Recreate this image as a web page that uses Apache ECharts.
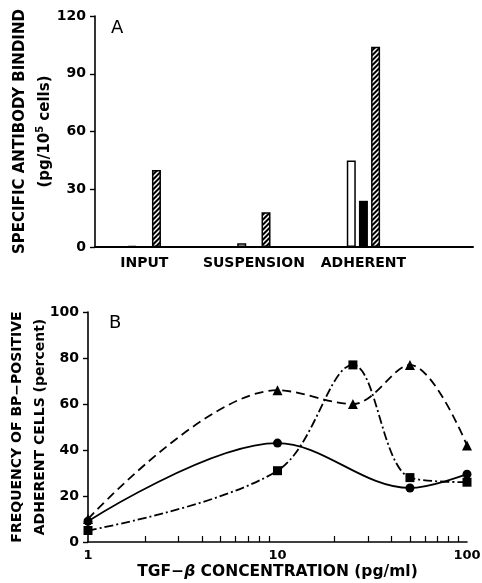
<!DOCTYPE html>
<html>
<head>
<meta charset="utf-8">
<script src="https://cdn.jsdelivr.net/npm/echarts@6/dist/echarts.min.js"></script>
<style>
  html, body { margin: 0; padding: 0; background: #fff; }
  #chart { width: 482px; height: 583px; }
</style>
</head>
<body>
<div id="chart"></div>
<script>
// panel A: antibody binding per cell fraction
const groups = ['INPUT', 'SUSPENSION', 'ADHERENT']
const groupPos = [1, 2, 3]
const openBars = [0.6, 2, 45]
const solidBars = [0, 0, 24]
const hatchedBars = [40, 18, 104]

// panel B: frequency vs TGF-beta concentration
const triangleX = [1, 10, 25, 50, 100]
const triangleY = [10, 66, 60, 77, 42]
const squareX = [1, 10, 25, 50, 100]
const squareY = [5, 31, 77, 28, 26]
const circleX = [1, 10, 50, 100]
const circleY = [9, 43, 23.5, 29.5]
const minorTicks = [2, 3, 4, 5, 6, 7, 8, 9, 20, 30, 40, 50, 60, 70, 80, 90]

const font = 'DejaVu Sans'

const makeHatch = () => {
  const c = document.createElement('canvas')
  c.width = 5
  c.height = 5
  const ctx = c.getContext('2d')
  ctx.fillStyle = '#000'
  ctx.fillRect(0, 0, 5, 5)
  ctx.strokeStyle = '#fff'
  ctx.lineWidth = 1.5
  ctx.beginPath()
  ctx.moveTo(-1, 6); ctx.lineTo(6, -1)
  ctx.moveTo(-1, 1); ctx.lineTo(1, -1)
  ctx.moveTo(4, 6); ctx.lineTo(6, 4)
  ctx.stroke()
  return c
}

const pairs = (xs, ys) => xs.map((x, i) => [x, ys[i]])

const tickLabel = { color: '#000', fontFamily: font, fontWeight: 'bold', fontSize: 14 }
const nameStyle = (size, lh) => ({
  color: '#000', fontFamily: font, fontWeight: 'bold', fontSize: size, lineHeight: lh,
  rich: {
    sup: { color: '#000', fontFamily: font, fontWeight: 'bold', fontSize: 10, padding: [0, 0, 10, 0] },
    it: { color: '#000', fontFamily: font, fontWeight: 'bold', fontStyle: 'italic', fontSize: size }
  }
})
const axisLine = { show: true, lineStyle: { color: '#000', width: 1.6 } }

const chart = echarts.init(document.getElementById('chart'))

chart.setOption({
  animation: false,
  backgroundColor: '#fff',
  title: [
    { text: 'A', left: 106, top: 14, textStyle: { fontFamily: font, fontWeight: 'normal', fontSize: 18, color: '#000' } },
    { text: 'B', left: 104, top: 309, textStyle: { fontFamily: font, fontWeight: 'normal', fontSize: 18, color: '#000' } }
  ],
  grid: [
    { left: 95, right: 9, top: 16, bottom: 336, outerBoundsMode: 'none' },
    { left: 88, right: 15, top: 312, bottom: 41, outerBoundsMode: 'none' }
  ],
  xAxis: [
    {
      gridIndex: 0,
      type: 'value',
      min: 0.55,
      max: 4,
      axisLine: { show: true, lineStyle: { color: '#000', width: 2 } },
      axisTick: { show: false },
      splitLine: { show: false },
      axisLabel: {
        ...tickLabel,
        margin: 9,
        customValues: groupPos,
        formatter: v => groups[groupPos.indexOf(v)] || ''
      }
    },
    {
      gridIndex: 1,
      type: 'log',
      logBase: 10,
      min: 1,
      max: 100,
      axisLine,
      axisTick: { show: true, inside: true, length: 6, customValues: minorTicks, lineStyle: { color: '#000', width: 1.2 } },
      splitLine: { show: false },
      axisLabel: { ...tickLabel, fontSize: 13, margin: 7 },
      name: 'TGF\u2212{it|\u03b2} CONCENTRATION (pg/ml)',
      nameLocation: 'middle',
      nameGap: 20,
      nameMoveOverlap: false,
      nameTextStyle: nameStyle(15.5, 20)
    }
  ],
  yAxis: [
    {
      gridIndex: 0,
      type: 'value',
      min: 0,
      max: 120,
      interval: 30,
      axisLine,
      axisTick: { show: true, length: 5, lineStyle: { color: '#000', width: 1.4 } },
      splitLine: { show: false },
      axisLabel: { ...tickLabel, margin: 9 },
      name: 'SPECIFIC ANTIBODY BINDIND\n(pg/10{sup|5} cells)',
      nameLocation: 'middle',
      nameGap: 37,
      nameMoveOverlap: false,
      nameTextStyle: nameStyle(15, 25)
    },
    {
      gridIndex: 1,
      type: 'value',
      min: 0,
      max: 100,
      interval: 20,
      axisLine,
      axisTick: { show: true, length: 5, lineStyle: { color: '#000', width: 1.4 } },
      splitLine: { show: false },
      axisLabel: { ...tickLabel, margin: 9 },
      name: 'FREQUENCY OF BP\u2212POSITIVE\nADHERENT CELLS (percent)',
      nameLocation: 'middle',
      nameGap: 36,
      nameMoveOverlap: false,
      nameTextStyle: nameStyle(14, 23)
    }
  ],
  series: [
    {
      type: 'bar',
      xAxisIndex: 0,
      yAxisIndex: 0,
      barWidth: 9,
      barGap: '35%',
      data: pairs(groupPos, openBars),
      itemStyle: { color: '#fff', borderColor: '#000', borderWidth: 1.5 }
    },
    {
      type: 'bar',
      xAxisIndex: 0,
      yAxisIndex: 0,
      barWidth: 9,
      barGap: '35%',
      data: pairs(groupPos, solidBars),
      itemStyle: { color: '#000' }
    },
    {
      type: 'bar',
      xAxisIndex: 0,
      yAxisIndex: 0,
      barWidth: 9,
      barGap: '35%',
      data: pairs(groupPos, hatchedBars),
      itemStyle: { color: { image: makeHatch(), repeat: 'repeat' }, borderColor: '#000', borderWidth: 1.5 }
    },
    {
      type: 'line',
      xAxisIndex: 1,
      yAxisIndex: 1,
      smooth: 0.35,
      data: pairs(triangleX, triangleY),
      symbol: 'triangle',
      symbolSize: 10,
      itemStyle: { color: '#000' },
      lineStyle: { color: '#000', width: 1.8, type: [9, 5] }
    },
    {
      type: 'line',
      xAxisIndex: 1,
      yAxisIndex: 1,
      smooth: 0.35,
      data: pairs(squareX, squareY),
      symbol: 'rect',
      symbolSize: 9,
      itemStyle: { color: '#000' },
      lineStyle: { color: '#000', width: 1.8, type: [9, 3, 2, 3] }
    },
    {
      type: 'line',
      xAxisIndex: 1,
      yAxisIndex: 1,
      smooth: 0.35,
      data: pairs(circleX, circleY),
      symbol: 'circle',
      symbolSize: 9,
      itemStyle: { color: '#000' },
      lineStyle: { color: '#000', width: 1.8 }
    }
  ]
})
</script>
</body>
</html>
